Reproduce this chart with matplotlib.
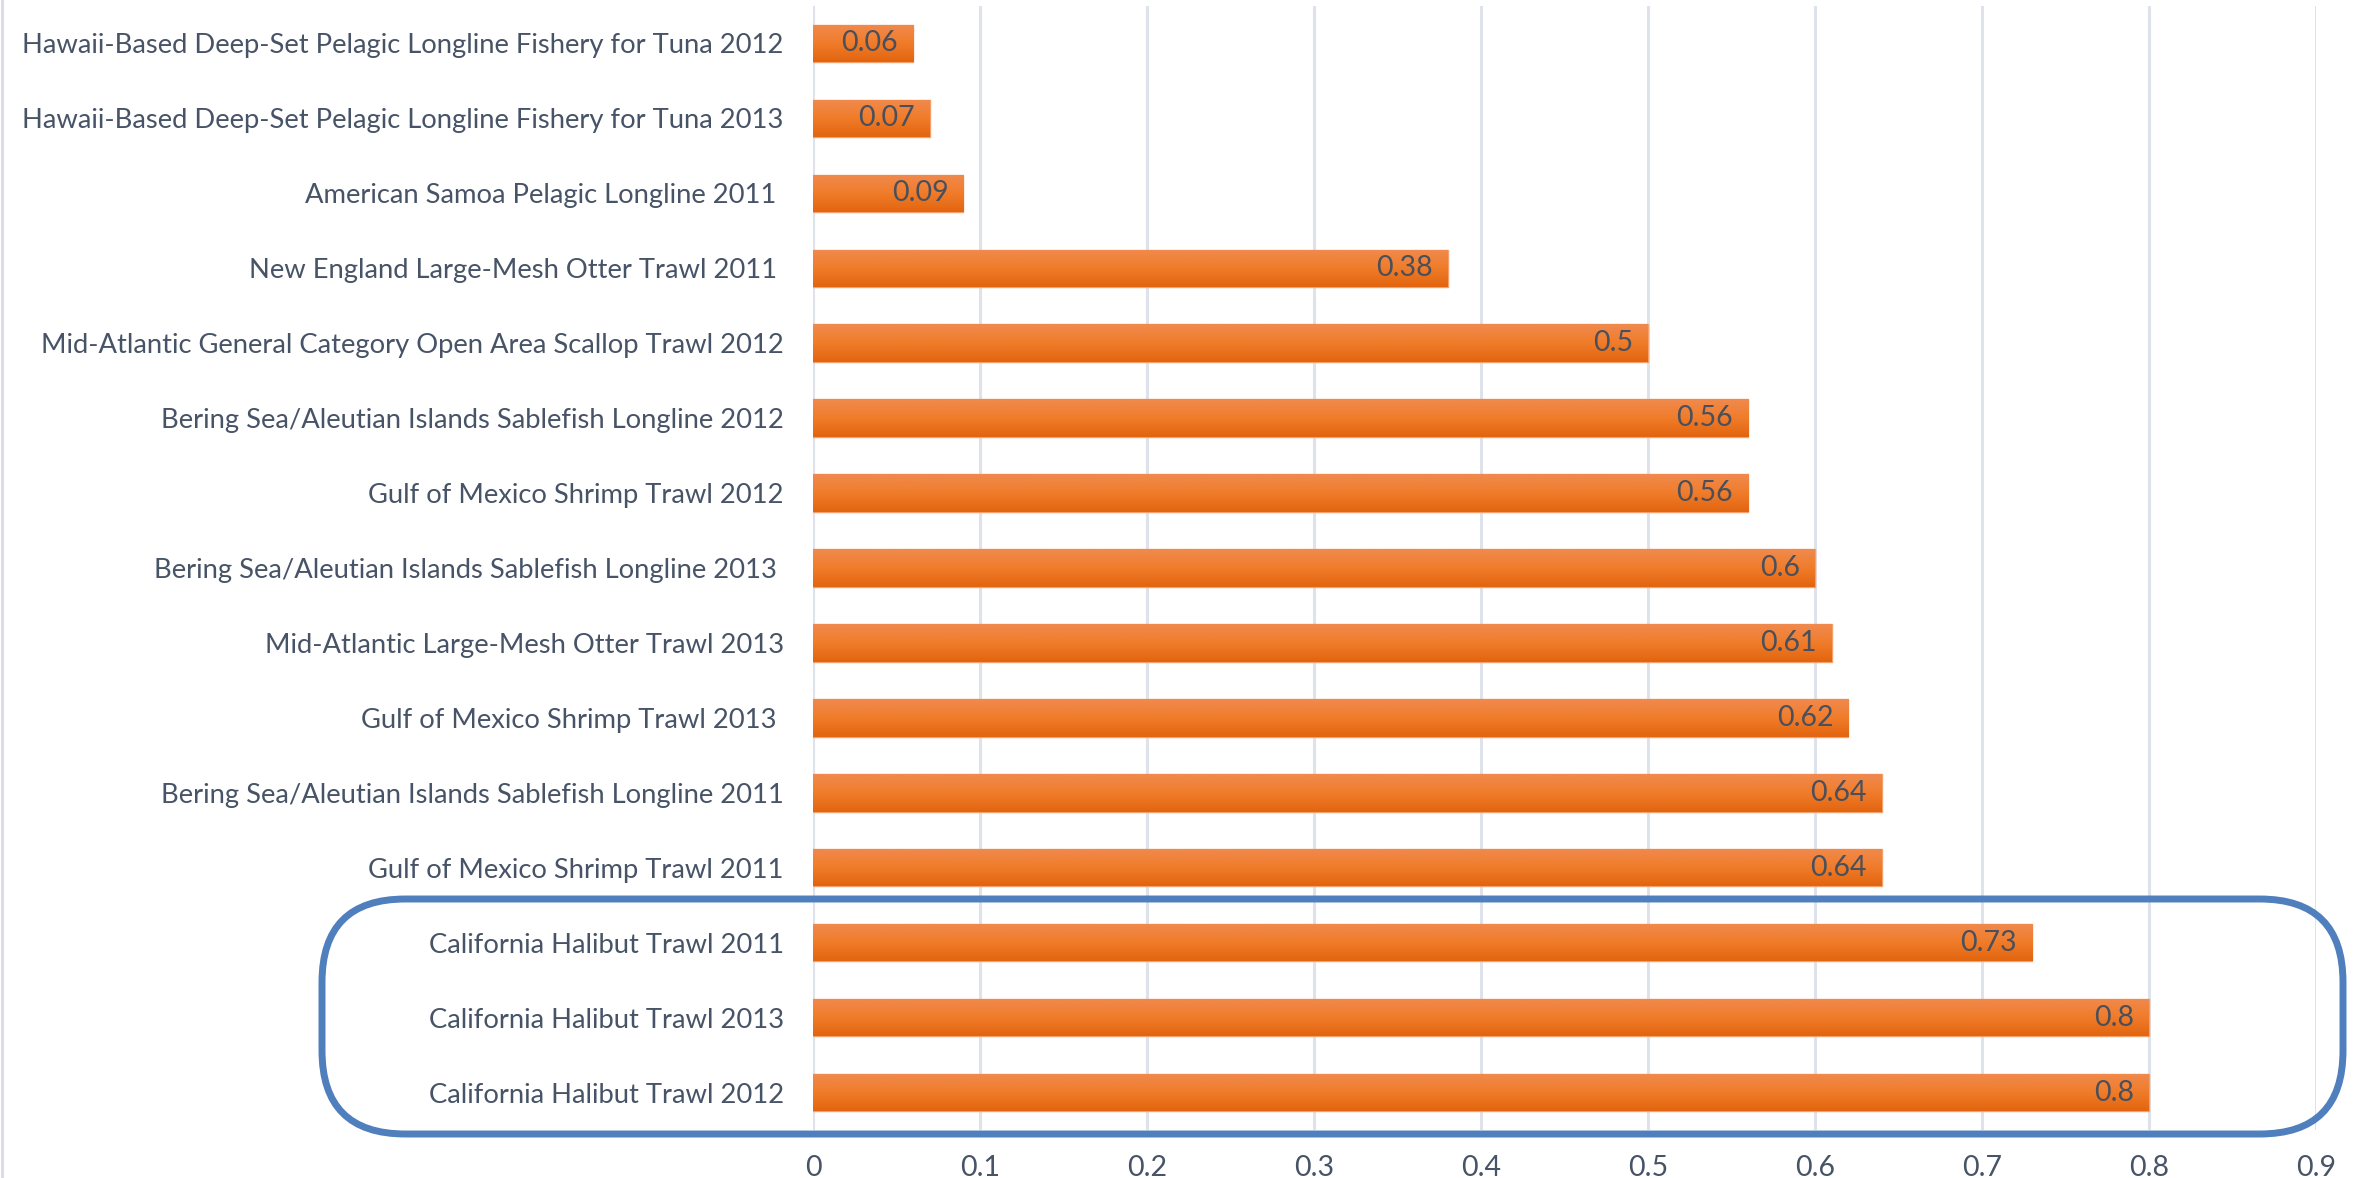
import matplotlib
matplotlib.use("Agg")
import matplotlib.pyplot as plt
import numpy as np
from matplotlib.patches import FancyBboxPatch
from matplotlib.colors import LinearSegmentedColormap

categories = [
    "Hawaii-Based Deep-Set Pelagic Longline Fishery for Tuna 2012",
    "Hawaii-Based Deep-Set Pelagic Longline Fishery for Tuna 2013",
    "American Samoa Pelagic Longline 2011 ",
    "New England Large-Mesh Otter Trawl 2011 ",
    "Mid-Atlantic General Category Open Area Scallop Trawl 2012",
    "Bering Sea/Aleutian Islands Sablefish Longline 2012",
    "Gulf of Mexico Shrimp Trawl 2012",
    "Bering Sea/Aleutian Islands Sablefish Longline 2013 ",
    "Mid-Atlantic Large-Mesh Otter Trawl 2013",
    "Gulf of Mexico Shrimp Trawl 2013 ",
    "Bering Sea/Aleutian Islands Sablefish Longline 2011",
    "Gulf of Mexico Shrimp Trawl 2011",
    "California Halibut Trawl 2011",
    "California Halibut Trawl 2013",
    "California Halibut Trawl 2012",
]
values = [0.06, 0.07, 0.09, 0.38, 0.5, 0.56, 0.56, 0.6, 0.61, 0.62, 0.64, 0.64, 0.73, 0.8, 0.8]
value_labels = ["0.06", "0.07", "0.09", "0.38", "0.5", "0.56", "0.56", "0.6", "0.61", "0.62",
                "0.64", "0.64", "0.73", "0.8", "0.8"]
xticks = [0, 0.1, 0.2, 0.3, 0.4, 0.5, 0.6, 0.7, 0.8, 0.9]
xtick_labels = ["0", "0.1", "0.2", "0.3", "0.4", "0.5", "0.6", "0.7", "0.8", "0.9"]

plt.rcParams['font.family'] = ['Lato', 'DejaVu Sans']
text_color = '#475366'

W, H = 2379, 1178
fig = plt.figure(figsize=(W / 100, H / 100), dpi=100)
ax = fig.add_axes([813 / W, 1 - 1130 / H, (2316 - 813) / W, (1130 - 6) / H])

n = len(categories)
ypos = np.arange(n)
bars = ax.barh(ypos, values, height=0.5, color='#ED7D31', edgecolor='#F4A06A',
               linewidth=1.0, zorder=3)

cmap = LinearSegmentedColormap.from_list('og', ['#F08A4E', '#F07C2A', '#E2650F'])
grad = np.linspace(0, 1, 64).reshape(-1, 1)
for b in bars:
    x0, y0 = b.get_x(), b.get_y()
    w, h = b.get_width(), b.get_height()
    im = ax.imshow(grad, cmap=cmap, aspect='auto', extent=(x0, x0 + w, y0, y0 + h),
                   origin='lower', zorder=3.5, interpolation='bicubic')
    im.set_clip_path(b)

for y, v, lab in zip(ypos, values, value_labels):
    ax.annotate(lab, xy=(v, y), xytext=(-15, 0), textcoords='offset pixels',
                ha='right', va='center', fontsize=20.5, color='#4A4F5A', zorder=5)

ax.set_xlim(0, 0.9)
ax.set_ylim(n - 0.5, -0.5)
ax.set_yticks(ypos)
ax.set_yticklabels(categories, fontsize=19.7, color=text_color)
ax.set_xticks(xticks)
ax.set_xticklabels(xtick_labels, fontsize=20.5, color=text_color)
ax.tick_params(axis='y', length=0, pad=21)
ax.tick_params(axis='x', length=0, pad=18)
ax.grid(axis='x', color='#DEE2EA', linewidth=2.2, zorder=0)
ax.set_axisbelow(True)
for s in ax.spines.values():
    s.set_visible(False)

# highlight box
box = FancyBboxPatch((322 / W, 1 - 1134 / H), (2343 - 322) / W, (1134 - 899) / H,
                     boxstyle="round,pad=0,rounding_size=0.035",
                     transform=fig.transFigure, fill=False,
                     edgecolor='#4F7FBC', linewidth=5.0, zorder=10,
                     mutation_aspect=W / H)
fig.add_artist(box)

# faint left border
fig.add_artist(plt.Line2D([1.5 / W, 1.5 / W], [0, 1], transform=fig.transFigure,
                          color='#D9DCE3', linewidth=2))

fig.savefig('out.png', dpi=100)
